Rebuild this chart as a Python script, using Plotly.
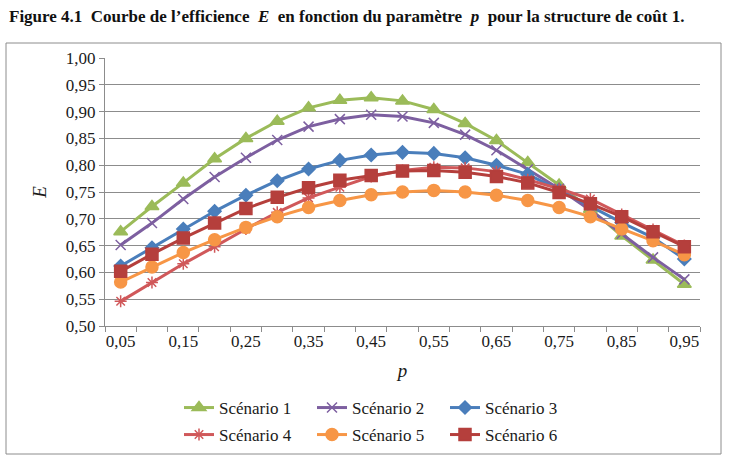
import plotly.graph_objects as go

p_values = [0.05, 0.10, 0.15, 0.20, 0.25, 0.30, 0.35, 0.40, 0.45, 0.50,
            0.55, 0.60, 0.65, 0.70, 0.75, 0.80, 0.85, 0.90, 0.95]

scenario_1 = [0.676, 0.723, 0.767, 0.812, 0.850, 0.882, 0.907, 0.921, 0.926, 0.920,
              0.904, 0.878, 0.846, 0.805, 0.763, 0.718, 0.668, 0.623, 0.578]
scenario_2 = [0.651, 0.692, 0.737, 0.778, 0.814, 0.847, 0.872, 0.886, 0.894, 0.891,
              0.879, 0.857, 0.828, 0.792, 0.756, 0.716, 0.672, 0.628, 0.587]
scenario_3 = [0.612, 0.646, 0.681, 0.714, 0.744, 0.771, 0.793, 0.809, 0.819, 0.824,
              0.822, 0.814, 0.800, 0.783, 0.754, 0.724, 0.693, 0.665, 0.625]
scenario_4 = [0.546, 0.581, 0.616, 0.648, 0.681, 0.712, 0.739, 0.759, 0.779, 0.790,
              0.796, 0.795, 0.788, 0.773, 0.756, 0.737, 0.708, 0.680, 0.650]
scenario_5 = [0.582, 0.610, 0.637, 0.661, 0.684, 0.704, 0.721, 0.734, 0.745, 0.750,
              0.753, 0.750, 0.744, 0.734, 0.721, 0.704, 0.681, 0.659, 0.633]
scenario_6 = [0.602, 0.634, 0.664, 0.692, 0.719, 0.740, 0.758, 0.772, 0.781, 0.789,
              0.790, 0.787, 0.779, 0.767, 0.749, 0.728, 0.704, 0.676, 0.648]

series_names = ["Scénario 1", "Scénario 2", "Scénario 3",
                "Scénario 4", "Scénario 5", "Scénario 6"]
x_tick_values = [0.05, 0.15, 0.25, 0.35, 0.45, 0.55, 0.65, 0.75, 0.85, 0.95]
x_tick_labels = ["0,05", "0,15", "0,25", "0,35", "0,45", "0,55", "0,65", "0,75", "0,85", "0,95"]

series = [scenario_1, scenario_2, scenario_3, scenario_4, scenario_5, scenario_6]
colors = ["#9BBB59", "#7D5FA0", "#4A7EBB", "#D0585A", "#F79646", "#B53F3C"]
symbols = ["triangle-up", "x-thin-open", "diamond", "asterisk-open", "circle", "square"]
sizes = [12, 10, 10, 10, 12, 12]
legends = ["legend", "legend", "legend", "legend2", "legend2", "legend2"]

SERIF = "Liberation Serif"

fig = go.Figure()
for name, ys, c, s, sz, lg in zip(series_names, series, colors, symbols, sizes, legends):
    fig.add_trace(go.Scatter(
        x=p_values, y=ys, name=name, mode="lines+markers",
        line=dict(color=c, width=3),
        marker=dict(symbol=s, size=sz, color=c, line=dict(color=c, width=1.5)),
        legend=lg,
    ))

# plot area in px: x 105..700, y 58..326
L, R, T, B = 105, 700, 58, 326
W, H = 730, 465
pw, ph = R - L, B - T

def px_x(x):
    return (x - L) / pw

def px_y(y):
    return (B - y) / ph

legend_common = dict(orientation="h", xanchor="left", yanchor="middle",
                     entrywidth=88, entrywidthmode="pixels",
                     font=dict(size=17, family=SERIF, color="#1a1a1a"),
                     bgcolor="rgba(0,0,0,0)", tracegroupgap=0)

fig.update_layout(
    width=W, height=H,
    margin=dict(l=L, r=W - R, t=T, b=H - B),
    paper_bgcolor="white", plot_bgcolor="white",
    separators=", ",
    font=dict(family=SERIF, size=17, color="#1a1a1a"),
    showlegend=True,
    legend=dict(x=px_x(179), y=px_y(408), **legend_common),
    legend2=dict(x=px_x(179), y=px_y(435), **legend_common),
    xaxis=dict(
        range=[0.025, 0.975], tickvals=x_tick_values, ticktext=x_tick_labels,
        ticks="", showgrid=False, zeroline=False,
        showline=True, linecolor="#8c8c8c", linewidth=1,
        minor=dict(tick0=0.025, dtick=0.05, ticks="outside", ticklen=5,
                   tickcolor="#8c8c8c", tickwidth=1, showgrid=False),
        tickfont=dict(size=17, family=SERIF, color="#1a1a1a"),
        title=dict(text="<i>p</i>", font=dict(size=19, family=SERIF), standoff=13),
    ),
    yaxis=dict(
        range=[0.5, 1.0], dtick=0.05, tick0=0.5, tickformat=".2f",
        showgrid=True, gridcolor="#8c8c8c", gridwidth=1, zeroline=False,
        showline=True, linecolor="#8c8c8c", linewidth=1,
        ticks="outside", ticklen=5, tickcolor="#8c8c8c",
        tickfont=dict(size=17, family=SERIF, color="#1a1a1a"),
        title=dict(text="<i>E</i>", font=dict(size=19, family=SERIF), standoff=14),
    ),
)

fig.add_shape(type="rect", xref="paper", yref="paper",
              x0=px_x(6), x1=px_x(721), y0=px_y(454), y1=px_y(43),
              line=dict(color="#8c8c8c", width=1), fillcolor="rgba(0,0,0,0)", layer="below")

fig.add_annotation(
    xref="paper", yref="paper", x=px_x(7), y=px_y(17), xanchor="left", yanchor="middle",
    showarrow=False,
    text="<b>Figure 4.1\u00a0 Courbe de l’efficience\u00a0 <i>E</i>\u00a0 en fonction du paramètre\u00a0 <i>p</i>\u00a0 pour la structure de coût 1.</b>",
    font=dict(family=SERIF, size=17, color="#111111"),
)

fig.write_html("out.html")
